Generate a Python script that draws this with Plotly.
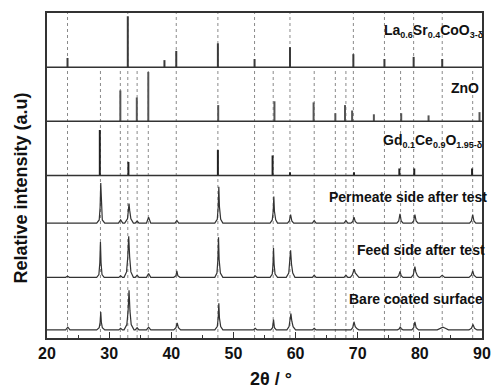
import plotly.graph_objects as go

# ---------------- data ----------------
# Reference stick patterns: 2theta positions and relative intensity (% of panel height)
LSC_POS = [23.3, 33.0, 38.9, 40.8, 47.5, 53.4, 59.1, 69.3, 74.3, 79.0, 83.6]
LSC_INT = [17, 94, 13, 30, 44, 15, 37, 24, 15, 19, 15]

ZNO_POS = [31.8, 34.45, 36.3, 47.55, 56.6, 62.9, 66.4, 67.95, 69.1, 72.6, 77.0, 81.4, 89.6]
ZNO_INT = [57, 44, 91, 30, 37, 35, 15, 30, 20, 13, 15, 11, 17]

GDC_POS = [28.5, 33.1, 47.5, 56.3, 59.1, 69.4, 76.7, 79.1, 88.4]
GDC_INT = [84, 25, 47, 37, 6, 6, 13, 13, 13]

# Guide lines (dotted)
LSC_LINES = [23.3, 33.0, 40.8, 47.5, 53.4, 59.1, 69.3, 74.3, 79.0, 83.6]
OTHER_LINES = [28.6, 31.8, 34.5, 36.3, 56.4, 63.0, 66.4, 68.1, 76.9, 88.5]

# Measured patterns (2theta, intensity in % of panel height above baseline)
PERMEATE = [
    (20, 0),
    (28.0, 0), (28.4, 6), (28.55, 30), (28.65, 74), (28.75, 30), (28.9, 6), (29.3, 0),
    (31.5, 0), (31.85, 6), (32.2, 0),
    (32.5, 0), (32.95, 8), (33.1, 24), (33.2, 36), (33.3, 24), (33.5, 8), (33.9, 0),
    (34.2, 0), (34.5, 4), (34.8, 0),
    (36.0, 0), (36.35, 11), (36.7, 0),
    (40.6, 0), (40.9, 5), (41.2, 0),
    (47.0, 0), (47.4, 7), (47.55, 30), (47.65, 67), (47.75, 30), (47.95, 7), (48.3, 0),
    (55.9, 0), (56.25, 6), (56.4, 22), (56.5, 49), (56.6, 22), (56.8, 6), (57.1, 0),
    (58.7, 0), (59.0, 4), (59.2, 16), (59.4, 4), (59.7, 0),
    (62.7, 0), (63.0, 5), (63.3, 0),
    (67.8, 0), (68.1, 5), (68.4, 0),
    (68.9, 0), (69.2, 3), (69.4, 11), (69.6, 3), (69.9, 0),
    (76.3, 0), (76.6, 4), (76.8, 17), (77.0, 4), (77.3, 0),
    (78.7, 0), (79.0, 4), (79.2, 16), (79.4, 4), (79.7, 0),
    (88.0, 0), (88.3, 4), (88.5, 16), (88.7, 4), (89.0, 0),
    (90, 0),
]

FEED = [
    (20, 0),
    (23.0, 0), (23.3, 2), (23.6, 0),
    (28.0, 0), (28.35, 5), (28.5, 27), (28.6, 65), (28.7, 27), (28.85, 5), (29.2, 0),
    (31.55, 0), (31.85, 3), (32.15, 0),
    (32.4, 0), (32.8, 10), (33.0, 38), (33.15, 76), (33.3, 38), (33.5, 10), (33.9, 0),
    (34.2, 0), (34.5, 4), (34.8, 0),
    (36.0, 0), (36.35, 7), (36.7, 0),
    (40.4, 0), (40.75, 3), (40.9, 12), (41.05, 3), (41.4, 0),
    (47.0, 0), (47.35, 8), (47.5, 33), (47.6, 74), (47.7, 33), (47.9, 8), (48.3, 0),
    (53.2, 0), (53.5, 3), (53.8, 0),
    (55.9, 0), (56.25, 6), (56.37, 24), (56.45, 54), (56.55, 24), (56.7, 6), (57.1, 0),
    (58.5, 0), (58.9, 8), (59.05, 24), (59.2, 50), (59.35, 24), (59.55, 8), (59.9, 0),
    (62.7, 0), (63.0, 4), (63.3, 0),
    (67.8, 0), (68.1, 4), (68.4, 0),
    (68.8, 0), (69.1, 4), (69.3, 12), (69.45, 15), (69.6, 8), (69.9, 3), (70.2, 0),
    (76.3, 0), (76.6, 3), (76.8, 11), (77.0, 3), (77.3, 0),
    (78.6, 0), (78.95, 5), (79.1, 16), (79.2, 20), (79.35, 10), (79.6, 3), (79.9, 0),
    (83.2, 0), (83.6, 4), (84.0, 0),
    (87.9, 0), (88.3, 4), (88.5, 12), (88.7, 4), (89.1, 0),
    (90, 0),
]

BARE = [
    (20, 0),
    (23.0, 0), (23.35, 5), (23.7, 0),
    (28.0, 0), (28.4, 4), (28.55, 14), (28.65, 33), (28.75, 14), (28.9, 4), (29.3, 0),
    (31.55, 0), (31.85, 3), (32.15, 0),
    (32.4, 0), (32.85, 10), (33.05, 35), (33.2, 73), (33.35, 35), (33.55, 10), (34.0, 0),
    (34.2, 0), (34.5, 4), (34.8, 0),
    (36.0, 0), (36.35, 5), (36.7, 0),
    (40.4, 0), (40.75, 4), (40.95, 13), (41.15, 4), (41.5, 0),
    (47.0, 0), (47.4, 6), (47.55, 22), (47.65, 49), (47.75, 22), (47.95, 6), (48.3, 0),
    (53.2, 0), (53.5, 3), (53.8, 0),
    (56.0, 0), (56.3, 4), (56.45, 19), (56.6, 4), (56.9, 0),
    (58.6, 0), (58.95, 6), (59.1, 16), (59.25, 30), (59.4, 16), (59.6, 6), (60.0, 0),
    (62.7, 0), (63.0, 3), (63.3, 0),
    (68.9, 0), (69.2, 4), (69.4, 15), (69.6, 6), (69.9, 2), (70.2, 0),
    (76.4, 0), (76.7, 2), (76.85, 6), (77.0, 2), (77.3, 0),
    (78.7, 0), (79.0, 4), (79.2, 15), (79.4, 4), (79.8, 0),
    (82.8, 0), (83.3, 3), (83.7, 5), (84.1, 3), (84.6, 0),
    (87.9, 0), (88.3, 3), (88.55, 10), (88.8, 3), (89.2, 0),
    (90, 0),
]

X_TICKS = [20, 30, 40, 50, 60, 70, 80, 90]

# ---------------- figure ----------------
FONT = "Liberation Sans, Arial, sans-serif"
fig = go.Figure()

# stacking offsets (panel units)
OFF_LSC, OFF_ZNO, OFF_GDC = 5.0, 4.0, 3.0
OFF_PERM, OFF_FEED, OFF_BARE = 2.12, 1.12, 0.15


def sticks(pos, inten, off, color, width):
    xs, ys = [], []
    for p, h in zip(pos, inten):
        xs += [p, p, None]
        ys += [off, off + h / 100.0, None]
    fig.add_trace(go.Scatter(x=xs, y=ys, mode="lines",
                             line=dict(color=color, width=width),
                             hoverinfo="skip", showlegend=False))


def pattern(pts, off):
    xs = [p[0] for p in pts]
    ys = [off + p[1] / 100.0 for p in pts]
    fig.add_trace(go.Scatter(x=xs, y=ys, mode="lines",
                             line=dict(color="#333333", width=1.2),
                             hoverinfo="skip", showlegend=False))


def sub(s):
    return "<sub><span style='font-size:9px'>" + s + "</span></sub>"


# dotted guide lines
for p in LSC_LINES:
    fig.add_shape(type="line", x0=p, x1=p, y0=0, y1=6, xref="x", yref="y",
                  line=dict(color="#8a8a8a", width=1, dash="dot"), layer="below")
for p in OTHER_LINES:
    fig.add_shape(type="line", x0=p, x1=p, y0=0, y1=5, xref="x", yref="y",
                  line=dict(color="#8a8a8a", width=1, dash="dot"), layer="below")

# panel separators
for yv in [3, 4, 5]:
    fig.add_shape(type="line", x0=0, x1=1, y0=yv, y1=yv, xref="paper", yref="y",
                  line=dict(color="#333333", width=1.5))

sticks(LSC_POS, LSC_INT, OFF_LSC, "#3a3a3a", 2)
sticks(ZNO_POS, ZNO_INT, OFF_ZNO, "#555555", 2)
sticks(GDC_POS, GDC_INT, OFF_GDC, "#222222", 2)

pattern(PERMEATE, OFF_PERM)
pattern(FEED, OFF_FEED)
pattern(BARE, OFF_BARE)

lab_font = dict(family=FONT, size=14, color="#111111")
labels = [
    ("La" + sub("0.6") + "Sr" + sub("0.4") + "CoO" + sub("3-δ"), 88.9, 5.66),
    ("ZnO", 88.1, 4.62),
    ("Gd" + sub("0.1") + "Ce" + sub("0.9") + "O" + sub("1.95-δ"), 88.75, 3.63),
    ("Permeate side after test", 89.4, 2.61),
    ("Feed side after test", 89.05, 1.63),
    ("Bare coated surface", 88.75, 0.72),
]
for txt, xv, yv in labels:
    fig.add_annotation(x=xv, y=yv, xref="x", yref="y", text="<b>" + txt + "</b>",
                       showarrow=False, xanchor="right", yanchor="middle",
                       xshift=11, font=lab_font)

# axis titles
fig.add_annotation(x=0.516, y=-0.125, xref="paper", yref="paper", text="<b>2θ / °</b>",
                   showarrow=False, xanchor="center", yanchor="middle",
                   font=dict(family=FONT, size=18, color="#111111"))
fig.add_annotation(x=-0.062, y=0.46, xref="paper", yref="paper",
                   text="<b>Relative intensity (a.u)</b>", textangle=-90,
                   showarrow=False, xanchor="center", yanchor="middle",
                   font=dict(family=FONT, size=18, color="#111111"))

fig.update_xaxes(range=[20, 90], tickvals=X_TICKS,
                 ticktext=["<b>%d</b>" % v for v in X_TICKS],
                 ticks="inside", ticklen=6, tickwidth=1.3, tickcolor="#333333",
                 minor=dict(dtick=5, ticks="inside", ticklen=3, tickcolor="#333333"),
                 showline=True, linecolor="#333333", linewidth=1.5, mirror=True,
                 showgrid=False, zeroline=False,
                 tickfont=dict(family=FONT, size=16, color="#111111"))
fig.update_yaxes(range=[0, 6], showticklabels=False, ticks="",
                 showline=True, linecolor="#333333", linewidth=1.5, mirror=True,
                 showgrid=False, zeroline=False)

fig.update_layout(width=501, height=388,
                  margin=dict(l=47, r=10, t=13, b=50),
                  paper_bgcolor="white", plot_bgcolor="white",
                  showlegend=False)

fig.write_html("out.html")
